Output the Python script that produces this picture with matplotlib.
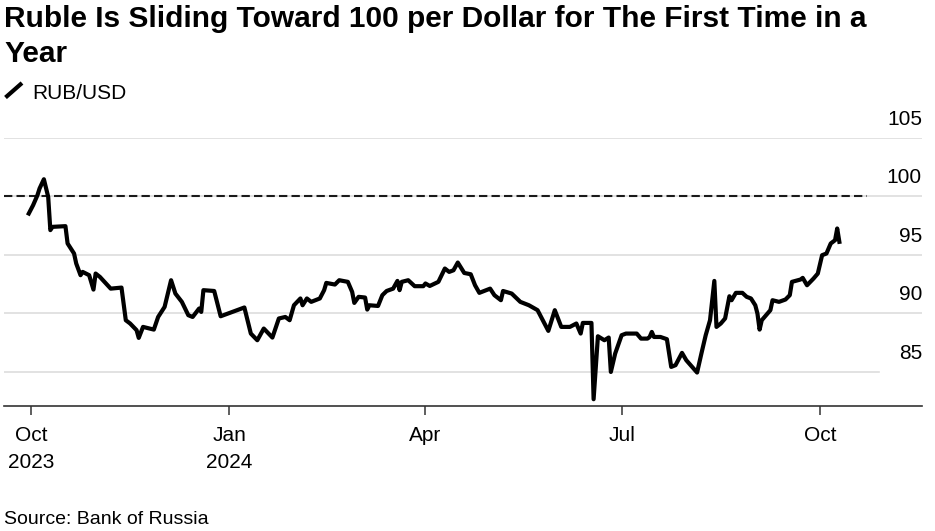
import numpy as np
import matplotlib
matplotlib.use('Agg')
import matplotlib.pyplot as plt
import matplotlib.dates as mdates
import matplotlib.transforms as mtransforms
from matplotlib.lines import Line2D

plt.rcParams['font.family'] = ['Liberation Sans', 'DejaVu Sans']

# RUB per USD
dates = [
    '2023-09-30', '2023-10-02', '2023-10-03', '2023-10-04', '2023-10-05', '2023-10-07',
    '2023-10-09', '2023-10-10', '2023-10-11', '2023-10-17', '2023-10-18', '2023-10-21',
    '2023-10-22', '2023-10-24', '2023-10-25', '2023-10-28', '2023-10-30', '2023-10-31',
    '2023-11-02', '2023-11-07', '2023-11-12', '2023-11-14', '2023-11-16', '2023-11-19',
    '2023-11-20', '2023-11-22', '2023-11-27', '2023-11-29', '2023-12-02', '2023-12-05',
    '2023-12-07', '2023-12-10', '2023-12-13', '2023-12-15', '2023-12-18', '2023-12-19',
    '2023-12-20', '2023-12-25', '2023-12-28', '2024-01-08', '2024-01-11', '2024-01-14',
    '2024-01-17', '2024-01-21', '2024-01-24', '2024-01-27', '2024-01-29', '2024-01-31',
    '2024-02-03', '2024-02-04', '2024-02-06', '2024-02-08', '2024-02-12', '2024-02-14',
    '2024-02-15', '2024-02-19', '2024-02-21', '2024-02-25', '2024-02-27', '2024-02-28',
    '2024-03-01', '2024-03-04', '2024-03-05', '2024-03-06', '2024-03-10', '2024-03-12',
    '2024-03-14', '2024-03-17', '2024-03-19', '2024-03-20', '2024-03-21', '2024-03-24',
    '2024-03-27', '2024-03-31', '2024-04-01', '2024-04-03', '2024-04-07', '2024-04-10',
    '2024-04-12', '2024-04-14', '2024-04-16', '2024-04-19', '2024-04-22', '2024-04-24',
    '2024-04-26', '2024-05-01', '2024-05-03', '2024-05-06', '2024-05-07', '2024-05-11',
    '2024-05-15', '2024-05-19', '2024-05-23', '2024-05-28', '2024-05-31', '2024-06-03',
    '2024-06-07', '2024-06-10', '2024-06-12', '2024-06-13', '2024-06-17', '2024-06-18',
    '2024-06-20', '2024-06-23', '2024-06-25', '2024-06-26', '2024-06-28', '2024-07-01',
    '2024-07-03', '2024-07-08', '2024-07-10', '2024-07-13', '2024-07-14', '2024-07-15',
    '2024-07-16', '2024-07-19', '2024-07-22', '2024-07-24', '2024-07-26', '2024-07-29',
    '2024-07-31', '2024-08-02', '2024-08-05', '2024-08-07', '2024-08-09', '2024-08-11',
    '2024-08-13', '2024-08-14', '2024-08-16', '2024-08-18', '2024-08-20', '2024-08-21',
    '2024-08-23', '2024-08-26', '2024-08-28', '2024-08-30', '2024-09-01', '2024-09-02',
    '2024-09-03', '2024-09-04', '2024-09-06', '2024-09-08', '2024-09-09', '2024-09-12',
    '2024-09-15', '2024-09-17', '2024-09-18', '2024-09-22', '2024-09-23', '2024-09-25',
    '2024-09-28', '2024-09-30', '2024-10-02', '2024-10-04', '2024-10-06', '2024-10-08',
    '2024-10-09', '2024-10-10',
]
rub_usd = [
    98.52, 99.23, 99.66, 100.08, 100.66, 101.45,
    99.94, 97.10, 97.38, 97.44, 95.96, 95.10,
    94.25, 93.25, 93.53, 93.25, 92.02, 93.39,
    93.10, 92.10, 92.19, 89.40, 89.12, 88.55,
    87.89, 88.83, 88.60, 89.68, 90.54, 92.82,
    91.68, 90.97, 89.83, 89.68, 90.40, 90.11,
    91.97, 91.90, 89.74, 90.49, 88.26, 87.69,
    88.69, 87.92, 89.55, 89.68, 89.40, 90.68,
    91.26, 90.68, 91.26, 90.97, 91.26, 91.97,
    92.59, 92.45, 92.82, 92.68, 91.82, 90.88,
    91.40, 91.34, 90.31, 90.68, 90.62, 91.54,
    91.90, 92.10, 92.76, 91.97, 92.68, 92.82,
    92.31, 92.31, 92.54, 92.33, 92.68, 93.82,
    93.53, 93.67, 94.33, 93.44, 93.33, 92.39,
    91.74, 92.10, 91.54, 91.11, 91.90, 91.68,
    90.97, 90.68, 90.26, 88.49, 90.26, 88.83,
    88.83, 89.12, 88.26, 89.17, 89.17, 82.65,
    88.03, 87.69, 87.92, 84.98, 86.55, 88.12,
    88.26, 88.26, 87.83, 87.83, 87.97, 88.40,
    87.97, 87.97, 87.78, 85.41, 85.56, 86.61,
    85.98, 85.56, 84.93, 86.55, 88.12, 89.40,
    92.76, 88.83, 89.12, 89.55, 91.45, 91.11,
    91.74, 91.74, 91.40, 91.26, 90.68, 89.97,
    88.60, 89.40, 89.83, 90.26, 91.11, 90.97,
    91.17, 91.54, 92.68, 92.88, 93.02, 92.39,
    92.96, 93.39, 94.96, 95.10, 95.96, 96.24,
    97.24, 96.10,
]
y_ticks = [85, 90, 95, 100, 105]
x_tick_dates = ['2023-10-01', '2024-01-01', '2024-04-01', '2024-07-01', '2024-10-01']
x_tick_labels = ['Oct\n2023', 'Jan\n2024', 'Apr', 'Jul', 'Oct']
threshold = 100

W, H = 935, 531
fig = plt.figure(figsize=(W / 100, H / 100), dpi=100)
ax = fig.add_axes([4 / W, 125 / H, 918 / W, 268.3 / H])

x = np.array(dates, dtype='datetime64[D]')

# grid lines (the lowest one is shorter in the original)
for yt in y_ticks:
    ax.axhline(yt, xmin=0, xmax=0.953 if yt == 85 else 1, color='#dddddd', lw=1.2, zorder=1)
ax.axhline(threshold, xmin=0, xmax=0.94, color='#1a1a1a', lw=1.5, ls=(0, (4, 2)), zorder=2)

ax.plot(x, rub_usd, color='black', lw=3.0, solid_joinstyle='round', zorder=3)

ax.set_ylim(82.07, 105)
ax.set_xlim(np.datetime64('2023-09-18T12:00'), np.datetime64('2024-11-17T08:00'))
ax.set_yticks([])
ax.set_xticks(mdates.date2num(np.array(x_tick_dates, dtype='datetime64[D]')))
ax.set_xticklabels(x_tick_labels)
ax.tick_params(axis='x', length=6.5, width=1.1, color='#333333', pad=8, labelsize=15)
for lbl in ax.get_xticklabels():
    lbl.set_linespacing(1.55)
for s in ['top', 'left', 'right']:
    ax.spines[s].set_visible(False)
ax.spines['bottom'].set_color('#333333')
ax.spines['bottom'].set_linewidth(1.2)

# value labels sit above their grid line on the right
trans = mtransforms.offset_copy(ax.get_yaxis_transform(), fig=fig, y=9.4, units='points')
for yt in y_ticks:
    ax.text(1.0, yt, str(yt), transform=trans, ha='right', va='baseline', fontsize=15)

fig.text(4 / W, 1 - 26.7 / H, 'Ruble Is Sliding Toward 100 per Dollar for The First Time in a',
         fontsize=21.5, fontweight='bold', va='baseline')
fig.text(4 / W, 1 - 62 / H, 'Year', fontsize=21.5, fontweight='bold', va='baseline')

fig.add_artist(Line2D([5.5 / W, 22 / W], [1 - 97.5 / H, 1 - 83 / H], transform=fig.transFigure,
                      color='black', lw=3.0, solid_capstyle='butt'))
fig.text(32 / W, 1 - 99 / H, 'RUB/USD', fontsize=15, va='baseline')

fig.text(4 / W, 1 - 524 / H, 'Source: Bank of Russia', fontsize=14, va='baseline')

fig.savefig('out.png', dpi=100)
